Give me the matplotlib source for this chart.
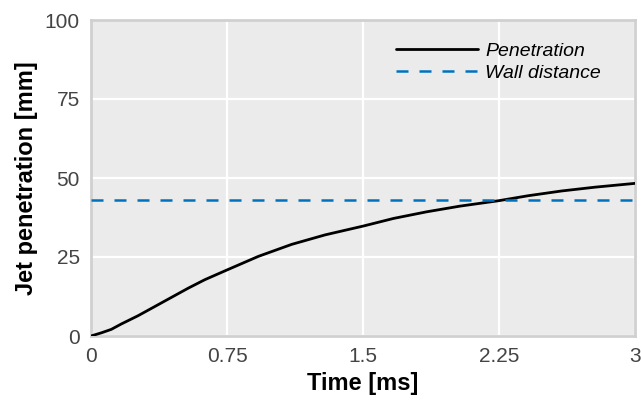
import matplotlib
matplotlib.use("Agg")
import matplotlib.pyplot as plt

time_ms = [0, 0.057, 0.112, 0.167, 0.259, 0.351, 0.443, 0.535, 0.627, 0.746, 0.923, 1.107,
           1.291, 1.502, 1.668, 1.851, 2.035, 2.247, 2.412, 2.596, 2.78, 3.0]
penetration = [0, 1.0, 2.1, 3.8, 6.4, 9.3, 12.2, 15.1, 17.8, 20.8, 25.2, 29.0,
               32.0, 34.8, 37.2, 39.3, 41.1, 42.8, 44.4, 45.9, 47.1, 48.3]
wall_distance = 43.0
xticks = [0, 0.75, 1.5, 2.25, 3]
xticklabels = ["0", "0.75", "1.5", "2.25", "3"]
yticks = [0, 25, 50, 75, 100]

plt.rcParams['font.family'] = ['Liberation Sans', 'DejaVu Sans']

fig = plt.figure(figsize=(6.41, 4.01), dpi=100)
ax = fig.add_axes([91/641, 1-336/401, (635-91)/641, (336-20)/401])
ax.set_facecolor('#ebebeb')

ax.plot(time_ms, penetration, color='black', lw=2.0, label='Penetration', zorder=3,
        solid_joinstyle='round', solid_capstyle='round')
ax.axhline(wall_distance, color='#0072BD', lw=1.8, linestyle=(0, (4.8, 4.4)),
           label='Wall distance', zorder=3)

ax.set_xlim(0, 3)
ax.set_ylim(0, 100)
ax.set_xticks(xticks)
ax.set_xticklabels(xticklabels)
ax.set_yticks(yticks)
ax.grid(True, color='white', lw=1.6, zorder=1)
ax.set_axisbelow(True)
ax.tick_params(length=0, labelsize=15, labelcolor='#444444', pad=8)
for s in ax.spines.values():
    s.set_color('#d0d0d0')
    s.set_linewidth(2)

ax.set_xlabel('Time [ms]', fontsize=17, fontweight='bold', labelpad=4)
ax.set_ylabel('Jet penetration [mm]', fontsize=17, fontweight='bold', labelpad=5)

leg = ax.legend(loc='upper right', frameon=False, prop={'style': 'italic', 'size': 14},
                handlelength=4.2, handletextpad=0.4, labelspacing=0.25,
                bbox_to_anchor=(0.970, 0.986))

fig.savefig('out.png', dpi=100)
